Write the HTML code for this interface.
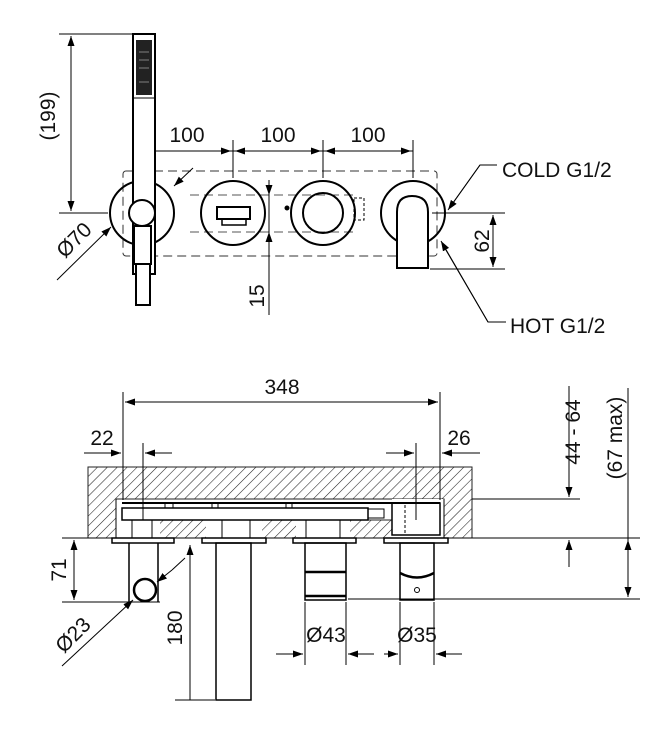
<!DOCTYPE html>
<html><head><meta charset="utf-8"><style>
html,body{margin:0;padding:0;background:#fff}
svg{display:block}
text{font-family:"Liberation Sans",Arial,sans-serif;fill:#111}
</style></head><body>
<svg width="671" height="735" viewBox="0 0 671 735" xmlns="http://www.w3.org/2000/svg">
<defs>
<pattern id="h" patternUnits="userSpaceOnUse" width="7" height="7" patternTransform="rotate(45)">
<line x1="0" y1="0" x2="0" y2="7" stroke="#222" stroke-width="1.1"/>
</pattern>
<marker id="a" viewBox="0 0 10 10" refX="10" refY="5" markerWidth="10" markerHeight="10" orient="auto-start-reverse" markerUnits="userSpaceOnUse"><path d="M0,1.5 L10,5 L0,8.5z" fill="#000"/></marker>
</defs>
<g stroke="#000" fill="none" stroke-width="1">
<!-- TOP VIEW -->
<line x1="59" y1="34" x2="155" y2="34"/>
<line x1="59" y1="213" x2="108" y2="213"/>
<line x1="71" y1="36" x2="71" y2="211" marker-start="url(#a)" marker-end="url(#a)"/>
<rect x="123" y="171" width="314" height="85" rx="3" stroke-dasharray="9,5" stroke="#333"/>
<line x1="190" y1="195" x2="355" y2="195" stroke-dasharray="9,5" stroke="#555"/>
<line x1="190" y1="232" x2="355" y2="232" stroke-dasharray="9,5" stroke="#555"/>
<line x1="142" y1="151" x2="413" y2="151"/>
<line x1="144" y1="151" x2="231" y2="151" marker-start="url(#a)" marker-end="url(#a)"/>
<line x1="235" y1="151" x2="321" y2="151" marker-start="url(#a)" marker-end="url(#a)"/>
<line x1="325" y1="151" x2="411" y2="151" marker-start="url(#a)" marker-end="url(#a)"/>
<line x1="233" y1="140" x2="233" y2="178"/>
<line x1="323" y1="140" x2="323" y2="178"/>
<line x1="413" y1="140" x2="413" y2="178"/>
<circle cx="142" cy="213" r="32" stroke-width="2"/>
<circle cx="233" cy="213" r="32" stroke-width="2"/>
<rect x="217" y="207" width="33" height="12" stroke-width="2"/>
<rect x="222" y="219" width="24" height="6" stroke-width="1.5"/>
<circle cx="323" cy="213" r="32" stroke-width="2"/>
<circle cx="323" cy="213" r="20" stroke-width="2"/>
<circle cx="287" cy="208" r="2" fill="#000"/>
<rect x="354" y="198" width="10" height="22" stroke-dasharray="3,2"/>
<circle cx="413" cy="213" r="32" stroke-width="2"/>
<path d="M397,268 V212 Q397,196 412,196 Q428,196 428,212 V268 Z" stroke-width="2" fill="#fff"/>
<rect x="133" y="34" width="22" height="240" stroke-width="2" fill="#fff"/>
<rect x="136" y="40" width="16" height="55" fill="#222" stroke="none"/>
<g stroke="#999" stroke-width="0.8"><line x1="139" y1="52" x2="149" y2="52"/><line x1="139" y1="60" x2="149" y2="60"/><line x1="139" y1="68" x2="149" y2="68"/><line x1="139" y1="82" x2="149" y2="82"/></g>
<line x1="133" y1="98" x2="155" y2="98"/>
<circle cx="142" cy="213" r="13" stroke-width="2" fill="#fff"/>
<rect x="134" y="226" width="17" height="38" stroke-width="2" fill="#fff"/>
<rect x="136" y="264" width="14" height="41" stroke-width="2" fill="#fff"/>
<line x1="57" y1="280" x2="111" y2="227" marker-end="url(#a)"/>
<line x1="193" y1="168" x2="174" y2="186" marker-end="url(#a)"/>
<line x1="269" y1="184" x2="269" y2="315"/>
<line x1="269" y1="180" x2="269" y2="195" marker-end="url(#a)"/>
<line x1="269" y1="245" x2="269" y2="232" marker-end="url(#a)"/>
<polyline points="497,165 480,165 450,207"/>
<line x1="480" y1="165" x2="448" y2="210" marker-end="url(#a)"/>
<polyline points="506,322 488,322 443,245"/>
<line x1="488" y1="322" x2="441" y2="241" marker-end="url(#a)"/>
<line x1="432" y1="213" x2="505" y2="213"/>
<line x1="430" y1="269" x2="505" y2="269"/>
<line x1="493" y1="215" x2="493" y2="267" marker-start="url(#a)" marker-end="url(#a)"/>

<!-- BOTTOM VIEW -->
<rect x="88" y="467" width="384" height="71" fill="url(#h)" stroke="#222"/>
<rect x="116" y="499" width="328" height="21" fill="#fff" stroke="#222"/>
<rect x="116" y="518" width="44" height="20" fill="#fff" stroke="none"/>
<rect x="206" y="518" width="56" height="20" fill="#fff" stroke="none"/>
<rect x="296" y="518" width="54" height="20" fill="#fff" stroke="none"/>
<rect x="392" y="499" width="52" height="39" fill="#fff" stroke="none"/>
<line x1="116" y1="499" x2="116" y2="538"/>
<line x1="444" y1="499" x2="444" y2="538"/>
<line x1="122" y1="503" x2="440" y2="503" stroke-width="2"/>
<rect x="122" y="508" width="246" height="12" stroke-width="1.5"/>
<rect x="368" y="509" width="16" height="9"/>
<rect x="392" y="503" width="48" height="32" stroke-width="1.5"/>
<line x1="405" y1="505" x2="405" y2="535" stroke-dasharray="3,2"/>
<rect x="132" y="520" width="20" height="18"/>
<rect x="222" y="520" width="28" height="18"/>
<rect x="306" y="520" width="34" height="18"/>
<rect x="165" y="503" width="8" height="5"/><rect x="212" y="503" width="6" height="5"/><rect x="286" y="503" width="6" height="5"/>
<line x1="62" y1="538" x2="640" y2="538"/>
<line x1="472" y1="499" x2="580" y2="499"/>
<line x1="348" y1="599" x2="640" y2="599"/>
<line x1="62" y1="602" x2="160" y2="602"/>
<rect x="112" y="538" width="62" height="5" stroke-width="1.5"/>
<rect x="202" y="538" width="64" height="5" stroke-width="1.5"/>
<rect x="293" y="538" width="63" height="5" stroke-width="1.5"/>
<rect x="384" y="538" width="64" height="5" stroke-width="1.5"/>
<line x1="129" y1="543" x2="129" y2="602" stroke-width="1.5"/>
<line x1="158" y1="543" x2="158" y2="602" stroke-width="1.5"/>
<circle cx="145" cy="590" r="11" stroke-width="2.5" fill="#fff"/>
<rect x="216" y="543" width="35" height="157" stroke-width="1.5"/>
<rect x="305" y="543" width="41" height="57" stroke-width="1.5"/>
<line x1="305" y1="572" x2="346" y2="572" stroke-width="2.5"/>
<line x1="305" y1="596" x2="346" y2="596" stroke-width="2.5"/>
<rect x="400" y="543" width="34" height="57" stroke-width="1.5"/>
<path d="M400,573 Q417,582 434,573" stroke-width="2.5"/>
<circle cx="417" cy="590" r="2.5"/>
<line x1="123" y1="392" x2="123" y2="500"/>
<line x1="440" y1="392" x2="440" y2="500"/>
<line x1="125" y1="402" x2="438" y2="402" marker-start="url(#a)" marker-end="url(#a)"/>
<line x1="84" y1="453" x2="121" y2="453" marker-end="url(#a)"/>
<line x1="172" y1="453" x2="145" y2="453" marker-end="url(#a)"/>
<line x1="143" y1="443" x2="143" y2="520"/>
<line x1="386" y1="453" x2="414" y2="453" marker-end="url(#a)"/>
<line x1="480" y1="453" x2="442" y2="453" marker-end="url(#a)"/>
<line x1="416" y1="443" x2="416" y2="520"/>
<line x1="74" y1="540" x2="74" y2="600" marker-start="url(#a)" marker-end="url(#a)"/>
<line x1="569" y1="386" x2="569" y2="497" marker-end="url(#a)"/>
<line x1="569" y1="567" x2="569" y2="540" marker-end="url(#a)"/>
<line x1="628" y1="388" x2="628" y2="597" marker-end="url(#a)"/>
<line x1="628" y1="560" x2="628" y2="540" marker-end="url(#a)"/>
<line x1="190" y1="700" x2="190" y2="545" marker-end="url(#a)"/>
<line x1="175" y1="700" x2="215" y2="700"/>
<line x1="305" y1="602" x2="305" y2="665"/><line x1="346" y1="602" x2="346" y2="665"/>
<line x1="276" y1="654" x2="303" y2="654" marker-end="url(#a)"/>
<line x1="374" y1="654" x2="348" y2="654" marker-end="url(#a)"/>
<line x1="400" y1="602" x2="400" y2="665"/><line x1="434" y1="602" x2="434" y2="665"/>
<line x1="384" y1="654" x2="398" y2="654" marker-end="url(#a)"/>
<line x1="462" y1="654" x2="436" y2="654" marker-end="url(#a)"/>
<line x1="62" y1="666" x2="133" y2="600" marker-end="url(#a)"/>
<line x1="172" y1="570" x2="157" y2="582" marker-end="url(#a)"/>
<line x1="172" y1="570" x2="185" y2="558"/>
</g>
<g font-size="21">
<text x="187" y="142" text-anchor="middle">100</text>
<text x="278" y="142" text-anchor="middle">100</text>
<text x="368" y="142" text-anchor="middle">100</text>
<text transform="translate(55,116) rotate(-90)" text-anchor="middle">(199)</text>
<text transform="translate(79,245) rotate(-45)" text-anchor="middle">Ø70</text>
<text transform="translate(264,296) rotate(-90)" text-anchor="middle">15</text>
<text x="502" y="177">COLD G1/2</text>
<text x="510" y="333">HOT G1/2</text>
<text transform="translate(489,241) rotate(-90)" text-anchor="middle">62</text>
<text x="282" y="394" text-anchor="middle">348</text>
<text x="102" y="445" text-anchor="middle">22</text>
<text x="459" y="445" text-anchor="middle">26</text>
<text transform="translate(580,432) rotate(-90)" text-anchor="middle">44 - 64</text>
<text transform="translate(622,438) rotate(-90)" text-anchor="middle">(67 max)</text>
<text transform="translate(66,570) rotate(-90)" text-anchor="middle">71</text>
<text transform="translate(78,640) rotate(-45)" text-anchor="middle">Ø23</text>
<text transform="translate(182,628) rotate(-90)" text-anchor="middle">180</text>
<text x="326" y="642" text-anchor="middle">Ø43</text>
<text x="417" y="642" text-anchor="middle">Ø35</text>
</g>
</svg>
</body></html>
